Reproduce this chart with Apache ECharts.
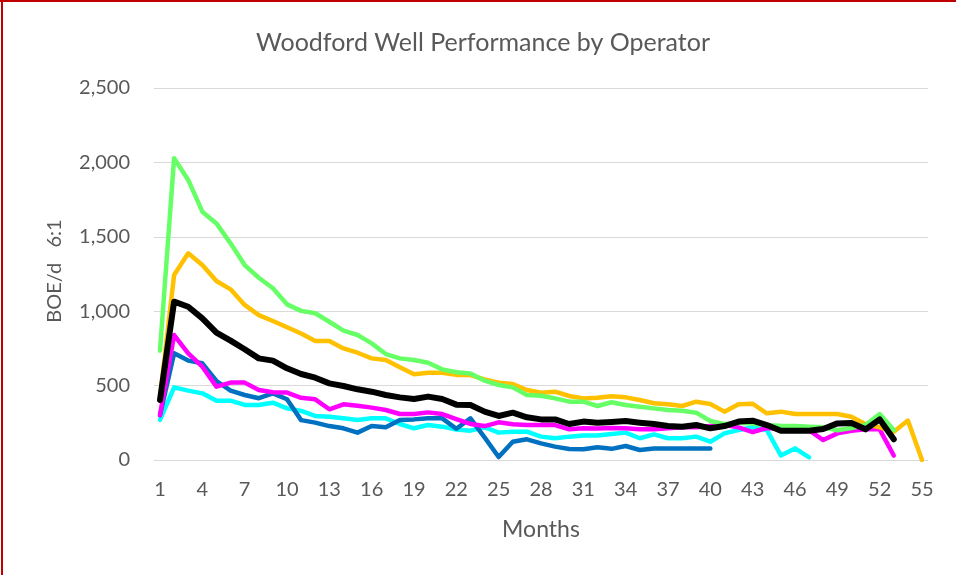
<!DOCTYPE html>
<html>
<head>
<meta charset="utf-8">
<script src="https://cdn.jsdelivr.net/npm/echarts@6/dist/echarts.min.js"></script>
<style>
html,body{margin:0;padding:0;background:#fff;}
#chart{width:956px;height:575px;}
</style>
</head>
<body>
<div id="chart"></div>
<script>
// Months 1..55
const months = [1,2,3,4,5,6,7,8,9,10,11,12,13,14,15,16,17,18,19,20,21,22,23,24,25,26,27,28,29,30,31,32,33,34,35,36,37,38,39,40,41,42,43,44,45,46,47,48,49,50,51,52,53,54,55];
const xTickLabels = [1,4,7,10,13,16,19,22,25,28,31,34,37,40,43,46,49,52,55];
const yTicks = [0,500,1000,1500,2000,2500];

const blueVals = [300,717,668,650,531,466,437,415,448,408,268,251,228,213,184,228,220,269,273,280,280,210,280,152,20,123,139,112,90,74,72,85,75,94,67,78,78,78,78,78];
const orangeVals = [420,1243,1389,1310,1203,1147,1042,974,934,892,850,800,800,750,721,683,672,623,576,587,587,572,571,542,520,511,470,452,459,430,414,419,428,421,403,381,375,363,392,376,325,375,378,314,325,309,309,309,309,291,240,220,190,265,0];
const greenVals = [735,2028,1882,1669,1590,1456,1310,1225,1154,1046,1002,986,929,869,840,784,712,683,672,654,609,590,582,533,504,488,437,432,414,392,392,363,388,370,358,347,336,331,318,262,240,250,245,235,228,228,224,220,200,215,235,309,202];
const cyanVals = [269,488,466,448,399,399,370,370,385,347,330,296,291,280,269,280,280,242,213,235,224,205,197,220,184,190,190,157,146,157,164,164,175,184,146,172,146,146,157,123,179,202,220,202,30,78,18];
const magentaVals = [302,840,717,627,493,520,520,470,455,453,418,408,341,374,365,352,336,309,309,320,309,275,242,228,253,240,235,235,235,206,213,211,215,213,206,206,213,220,220,228,235,220,188,215,208,200,200,134,179,197,206,206,30];
const blackVals = [403,1064,1030,952,856,802,744,683,668,616,578,553,515,497,475,459,437,421,410,426,410,372,370,325,296,318,287,273,273,242,258,250,255,262,251,242,228,224,235,213,228,258,264,235,197,197,197,208,246,249,206,273,139];

function pairs(vals){ return vals.map((v,i)=>[months[i], v]); }

const FONT = 'Lato, "Open Sans", sans-serif';
const TXT = '#595959';

function lineSeries(name, vals, color, width){
  return {
    name, type:'line', data: pairs(vals), symbol:'none', smooth:false,
    lineStyle:{color, width, cap:'round', join:'round'},
    itemStyle:{color}, animation:false
  };
}

const chart = echarts.init(document.getElementById('chart'), null, {renderer:'canvas'});
chart.setOption({
  animation:false,
  backgroundColor:'#ffffff',
  grid:{left:154, right:28, top:88, bottom:115, containLabel:false},
  xAxis:{
    type:'value', min:0.575, max:55.425,
    axisLine:{show:false}, axisTick:{show:false}, splitLine:{show:false},
    axisLabel:{customValues:xTickLabels, color:TXT, fontSize:20, fontFamily:FONT, margin:20}
  },
  yAxis:{
    type:'value', min:0, max:2500, interval:500,
    axisLine:{show:false}, axisTick:{show:false},
    splitLine:{lineStyle:{color:'#D9D9D9', width:1}},
    axisLabel:{color:TXT, fontSize:20, fontFamily:FONT, margin:24,
      formatter:v=>v.toLocaleString('en-US')}
  },
  series:[
    lineSeries('Cyan', cyanVals, '#00FFFF', 4.5),
    lineSeries('Blue', blueVals, '#0070C0', 4.5),
    lineSeries('Magenta', magentaVals, '#FF00FF', 4.5),
    lineSeries('Orange', orangeVals, '#FFC000', 4.5),
    lineSeries('Green', greenVals, '#66FF66', 4.5),
    lineSeries('Average', blackVals, '#000000', 6)
  ],
  graphic:[
    {type:'line', shape:{x1:0,y1:1,x2:956,y2:1}, style:{stroke:'#C00000', lineWidth:2}, silent:true},
    {type:'line', shape:{x1:2,y1:0,x2:2,y2:575}, style:{stroke:'#C00000', lineWidth:2}, silent:true},
    {type:'text', x:483, y:43, style:{text:'Woodford Well Performance by Operator', fill:TXT, font:'25px '+FONT, textAlign:'center', textVerticalAlign:'middle'}},
    {type:'text', x:541, y:530, style:{text:'Months', fill:TXT, font:'23px '+FONT, textAlign:'center', textVerticalAlign:'middle'}},
    {type:'text', x:55, y:271, rotation:Math.PI/2, style:{text:'BOE/d   6:1', fill:TXT, font:'20px '+FONT, textAlign:'center', textVerticalAlign:'middle'}}
  ]
});
</script>
</body>
</html>
